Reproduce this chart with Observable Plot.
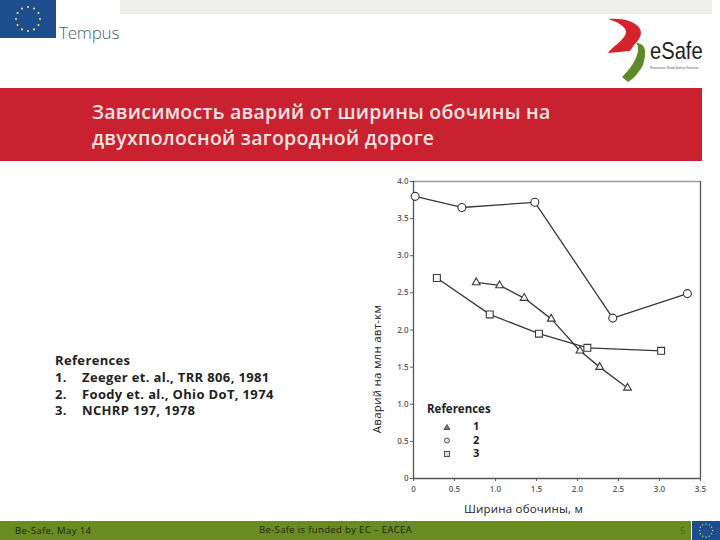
<!DOCTYPE html>
<html lang="ru"><head><meta charset="utf-8">
<script src="https://cdn.jsdelivr.net/npm/d3@7"></script>
<script src="https://cdn.jsdelivr.net/npm/@observablehq/plot@0.6"></script>
<style>
html,body{margin:0;padding:0;background:#fff;width:720px;height:540px;overflow:hidden}
body{position:relative;font-family:"DejaVu Sans",sans-serif}
.a{position:absolute;white-space:nowrap}
#chart{position:absolute;left:350px;top:165px}
#chart svg{background:transparent;overflow:visible}
</style></head><body>
<div class="a" style="left:120px;top:0;width:592px;height:14px;background:#eeefeb"></div>
<svg class="a" style="left:0;top:0" width="56" height="38" viewBox="0 0 56 38">
<rect width="56" height="38" fill="#1d4c8f"/>
<g id="stars" fill="#e8e05a"></g></svg>
<div class="a" style="left:59px;top:21px;font:300 17px 'Open Sans',sans-serif;color:#3a5f7d;letter-spacing:-.2px">Tempus</div>
<svg class="a" style="left:600px;top:15px;overflow:visible" width="118" height="72" viewBox="0 0 118 72">
<path d="M8 4C22 3 36 6 40 14C43 20 38 26 34 30L30 36L8 38C14 30 26 24 26 17C26 12 18 7 8 4Z" fill="#d3242c"/>
<path d="M36 28C44 28 48 34 43 50C39 58 33 64 28 67L22 62C30 54 36 46 38 36C38 32 38 30 36 28Z" fill="#5f8a2a"/>
<text transform="translate(50,44) scale(.84,1)" font-family="Liberation Sans" font-size="24" fill="#222">eSafe</text>
<text x="50" y="53.5" font-family="Liberation Sans" font-size="3.3" fill="#555">Resources Road Safety Ventures</text>
</svg>
<div class="a" style="left:0;top:88px;width:702px;height:73px;background:#c9212f"></div>
<div class="a" style="left:92px;top:99px;font:600 19.5px/26px 'Open Sans',sans-serif;letter-spacing:.25px;color:#f4e4e4">Зависимость аварий от ширины обочины на<br>двухполосной загородной дороге</div>
<div class="a" style="left:55px;top:352px;font:700 13px/16.8px 'Open Sans',sans-serif;color:#222;letter-spacing:.35px">References<br>1.<span style="position:absolute;left:27px">Zeeger et. al., TRR 806, 1981</span><br>2.<span style="position:absolute;left:27px">Foody et. al., Ohio DoT, 1974</span><br>3.<span style="position:absolute;left:27px">NCHRP 197, 1978</span></div>
<div id="chart"></div>
<div class="a" style="left:376px;top:369px;transform:translate(-50%,-50%) rotate(-90deg);font:400 11.5px 'Open Sans',sans-serif;color:#222;letter-spacing:.25px">Аварий на млн авт-км</div>
<div class="a" style="left:464px;top:501px;font:400 11.5px 'Open Sans',sans-serif;color:#222;letter-spacing:.2px">Ширина обочины, м</div>
<div class="a" style="left:427px;top:401px;font:700 11.5px 'Open Sans',sans-serif;color:#222">References</div>
<div class="a" style="left:473px;top:419px;font:700 11px/13.5px 'Open Sans',sans-serif;color:#222">1<br>2<br>3</div>
<svg class="a" style="left:439px;top:420px" width="16" height="42" viewBox="0 0 16 42" fill="#ddd" stroke="#555" stroke-width="1">
<path d="M8 4.5L11 9.5H5Z" fill="#777"/><circle cx="8" cy="20.5" r="2.5"/><rect x="5.5" y="31.5" width="5" height="5"/></svg>
<div class="a" style="left:0;top:521px;width:691px;height:19px;background:#6a8b22"></div>
<div class="a" style="left:15px;top:524px;font:400 9.5px 'Open Sans',sans-serif;color:#1c2410;letter-spacing:.4px">Be-Safe, May 14</div>
<div class="a" style="left:259px;top:523px;font:400 9.5px 'Open Sans',sans-serif;color:#1c2410;letter-spacing:.35px">Be-Safe is funded by EC – EACEA</div>
<div class="a" style="left:680px;top:524px;font:400 9px 'Open Sans',sans-serif;color:#47601a">5</div>
<svg class="a" style="left:692px;top:521px" width="28" height="19" viewBox="0 0 28 19"><rect width="28" height="19" fill="#1d4c8f"/><g id="stars2" fill="#e8e05a"></g></svg>
<script>
const ref1X=[0.765,1.05,1.35,1.68,2.03,2.27,2.61];
const ref1Y=[2.64,2.60,2.43,2.15,1.72,1.50,1.22];
const ref2X=[0.02,0.59,1.48,2.43,3.34];
const ref2Y=[3.80,3.65,3.72,2.16,2.49];
const ref3X=[0.285,0.93,1.53,2.12,3.02];
const ref3Y=[2.70,2.21,1.95,1.76,1.72];
const xTicks=[0,0.5,1,1.5,2,2.5,3,3.5];
const yTicks=[0,0.5,1,1.5,2,2.5,3,3.5,4];
const toRows=(xs,ys)=>xs.map((x,i)=>({x,y:ys[i]}));
const r1=toRows(ref1X,ref1Y),r2=toRows(ref2X,ref2Y),r3=toRows(ref3X,ref3Y);
const fmt=d=>d===0?"0":d.toFixed(1);
const ink="#383838";
const line=d=>Plot.line(d,{x:"x",y:"y",stroke:ink,strokeWidth:1.3});
const dots=(d,symbol,r)=>Plot.dot(d,{x:"x",y:"y",symbol,r,fill:"#fff",stroke:ink,strokeWidth:1.1});
document.getElementById("chart").append(Plot.plot({
  width:370,height:360,
  marginLeft:63,marginRight:20,marginTop:16,marginBottom:47,
  style:{fontFamily:"'Open Sans',sans-serif",fontSize:"8px",fontWeight:600,color:"#5c5c5c",background:"transparent"},
  x:{domain:[0,3.5],ticks:xTicks,tickFormat:fmt,label:null,tickSize:3,tickPadding:5},
  y:{domain:[0,4],ticks:yTicks,tickFormat:fmt,label:null,tickSize:3,tickPadding:2},
  marks:[
    Plot.ruleY([4],{stroke:"#999",strokeWidth:1.3}),
    Plot.ruleX([0,3.5],{stroke:"#555",strokeWidth:1.3}),
    Plot.ruleY([0],{stroke:"#555",strokeWidth:1.3}),
    line(r1),line(r2),line(r3),
    dots(r1,"triangle",2.9),dots(r2,"circle",4),dots(r3,"square",3.9)
  ]
}));
function stars(id,cx,cy,R,s){const g=document.getElementById(id);let h="";
 for(let i=0;i<12;i++){const a=i*Math.PI/6;h+=`<circle cx="${cx+R*Math.cos(a)}" cy="${cy+R*Math.sin(a)}" r="${s}"/>`;}
 g.innerHTML=h;}
stars("stars",28,19,12,1.1);stars("stars2",14,9.5,6.5,.7);
</script>
</body></html>
